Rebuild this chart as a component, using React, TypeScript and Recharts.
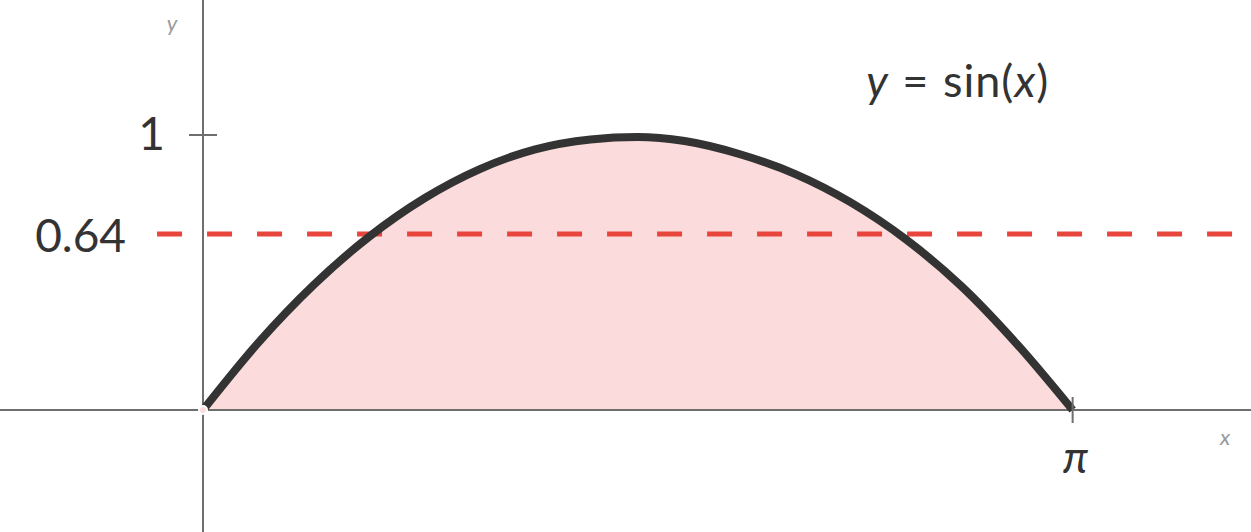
import { ComposedChart, Area, Line, XAxis, YAxis, ReferenceLine, ReferenceDot } from 'recharts';

// 曲線の読み取り値 (図から読んだ点)
const xValues = [0, 0.2, 0.4, 0.6, 0.8, 1.0, 1.2, 1.4, 1.57, 1.74, 1.94, 2.14, 2.34, 2.54, 2.74, 2.94, 3.1416];
const curveValues = [0, 0.245, 0.455, 0.63, 0.77, 0.876, 0.948, 0.984, 0.993, 0.978, 0.93, 0.858, 0.755, 0.62, 0.45, 0.24, 0];
const levelValue = 0.64;
const levelLabel = '0.64';
const yTickValue = 1;
const yTickLabel = '1';
const xTickValue = 3.1416;
const xTickLabel = 'π';

const data = xValues.map((x, i) => ({ x, y: curveValues[i] }));

const FONT = "Lato, 'DejaVu Sans', sans-serif";
const AXIS = '#6e6e6e';
const INK = '#333333';

export default function App() {
  return (
    <div style={{ position: 'absolute', left: 0, top: 0, background: '#fff' }}>
      <ComposedChart width={1251} height={532} data={data} margin={{ top: 0, right: 0, bottom: 0, left: 0 }}>
        <XAxis type="number" dataKey="x" domain={[-0.7334, 3.786]} allowDataOverflow hide />
        <YAxis type="number" domain={[-0.4436, 1.491]} allowDataOverflow hide />
        <Area
          type="monotone"
          dataKey="y"
          stroke="none"
          fill="#fcdbdc"
          fillOpacity={1}
          isAnimationActive={false}
        />
        <ReferenceLine
          segment={[{ x: -0.166, y: levelValue }, { x: 3.786, y: levelValue }]}
          stroke="#e8463c"
          strokeWidth={5}
          strokeDasharray="25 25"
          label={{
            content: ({ viewBox }: any) => (
              <text x={viewBox.x - 31} y={viewBox.y + 18} textAnchor="end" fontFamily={FONT} fontSize={46} fill={INK}>
                {levelLabel}
              </text>
            ),
          }}
        />
        <ReferenceLine
          y={0}
          stroke={AXIS}
          strokeWidth={2}
          label={{
            content: ({ viewBox }: any) => (
              <text
                x={viewBox.x + viewBox.width - 26}
                y={viewBox.y + 35}
                textAnchor="middle"
                fontFamily={FONT}
                fontStyle="italic"
                fontSize={22}
                fill="#9a9a9a"
              >
                x
              </text>
            ),
          }}
        />
        <ReferenceLine
          x={0}
          stroke={AXIS}
          strokeWidth={2}
          label={{
            content: ({ viewBox }: any) => (
              <text
                x={viewBox.x - 31}
                y={viewBox.y + 31}
                textAnchor="middle"
                fontFamily={FONT}
                fontStyle="italic"
                fontSize={22}
                fill="#9a9a9a"
              >
                y
              </text>
            ),
          }}
        />
        <ReferenceDot
          x={0}
          y={yTickValue}
          r={0}
          shape={({ cx, cy }: any) => (
            <g>
              <line x1={cx - 14} x2={cx + 14} y1={cy} y2={cy} stroke={AXIS} strokeWidth={2} />
              <text x={cx - 38} y={cy + 15} textAnchor="end" fontFamily={FONT} fontSize={46} fill={INK}>
                {yTickLabel}
              </text>
            </g>
          )}
        />
        <ReferenceDot
          x={xTickValue}
          y={0}
          r={0}
          shape={({ cx, cy }: any) => (
            <g>
              <line x1={cx} x2={cx} y1={cy - 13} y2={cy + 13} stroke={AXIS} strokeWidth={2} />
              <text
                x={cx + 3}
                y={cy + 63}
                textAnchor="middle"
                fontFamily={FONT}
                fontStyle="italic"
                fontSize={44}
                fill={INK}
              >
                {xTickLabel}
              </text>
            </g>
          )}
        />
        <ReferenceDot
          x={2.396}
          y={1.138}
          r={0}
          shape={({ cx, cy }: any) => (
            <text x={cx} y={cy} fontFamily={FONT} fontSize={45} fill={INK} letterSpacing={1} wordSpacing={1}>
              <tspan fontStyle="italic">y</tspan>
              <tspan> = sin(</tspan>
              <tspan fontStyle="italic">x</tspan>
              <tspan>)</tspan>
            </text>
          )}
        />
        <Line
          type="monotone"
          dataKey="y"
          stroke={INK}
          strokeWidth={8}
          dot={false}
          activeDot={false}
          isAnimationActive={false}
        />
      </ComposedChart>
    </div>
  );
}
